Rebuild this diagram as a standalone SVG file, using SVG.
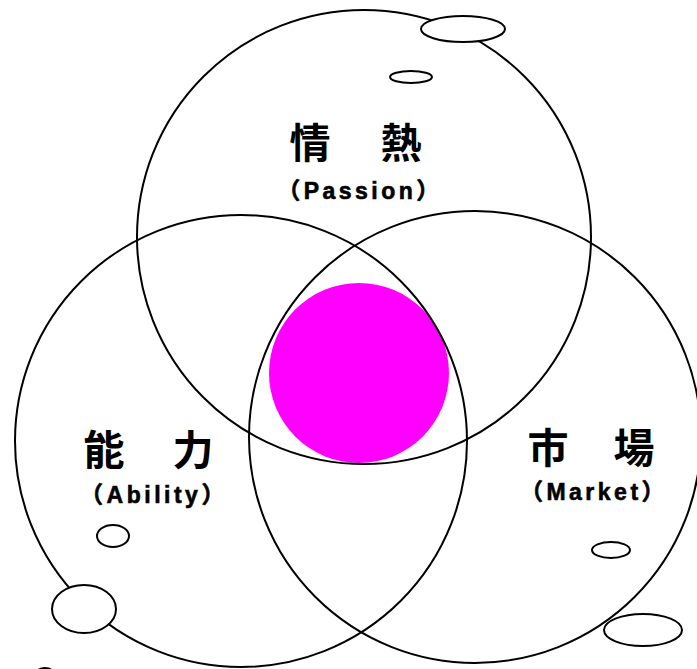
<svg xmlns="http://www.w3.org/2000/svg" width="697" height="669" viewBox="0 0 697 669">
<style>
.c{fill:none;stroke:#000;stroke-width:2}
.e{fill:#fff;stroke:#000;stroke-width:2}
.t{font-family:"Noto Sans CJK JP","Liberation Sans",sans-serif;font-weight:bold;fill:#000;text-anchor:middle}
.big{font-size:41px}
.sm{font-family:"Liberation Sans","Noto Sans CJK JP",sans-serif;font-size:23px;letter-spacing:3.5px;stroke:#000;stroke-width:0.6}
</style>
<rect width="697" height="669" fill="#fff"/>
<g id="pink"><circle cx="359" cy="373" r="90" fill="#ff00ff"/></g>
<g id="passion">
<circle class="c" cx="364" cy="237" r="227"/>
<text class="t big" y="158"><tspan x="310">情</tspan><tspan x="401">熱</tspan></text>
<text class="t sm" x="360" y="199">（Passion）</text>
</g>
<g id="ability">
<circle class="c" cx="241" cy="441" r="226"/>
<text class="t big" y="465"><tspan x="104">能</tspan><tspan x="193">力</tspan></text>
<text class="t sm" x="154" y="503">（Ability）</text>
</g>
<g id="market">
<circle class="c" cx="475" cy="437" r="226"/>
<text class="t big" y="463"><tspan x="548">市</tspan><tspan x="634">場</tspan></text>
<text class="t sm" x="594" y="500">（Market）</text>
</g>
<g id="bubbles">
<ellipse class="e" cx="463" cy="29" rx="42" ry="13"/>
<ellipse class="e" cx="411" cy="77" rx="21" ry="6"/>
<ellipse class="e" cx="113" cy="536" rx="16" ry="11"/>
<ellipse class="e" cx="84" cy="609" rx="32" ry="24"/>
<ellipse class="e" cx="611" cy="550" rx="19" ry="8"/>
<ellipse class="e" cx="643" cy="630" rx="39" ry="16"/>
<ellipse class="e" cx="45" cy="679" rx="12" ry="11"/>
</g>
</svg>
